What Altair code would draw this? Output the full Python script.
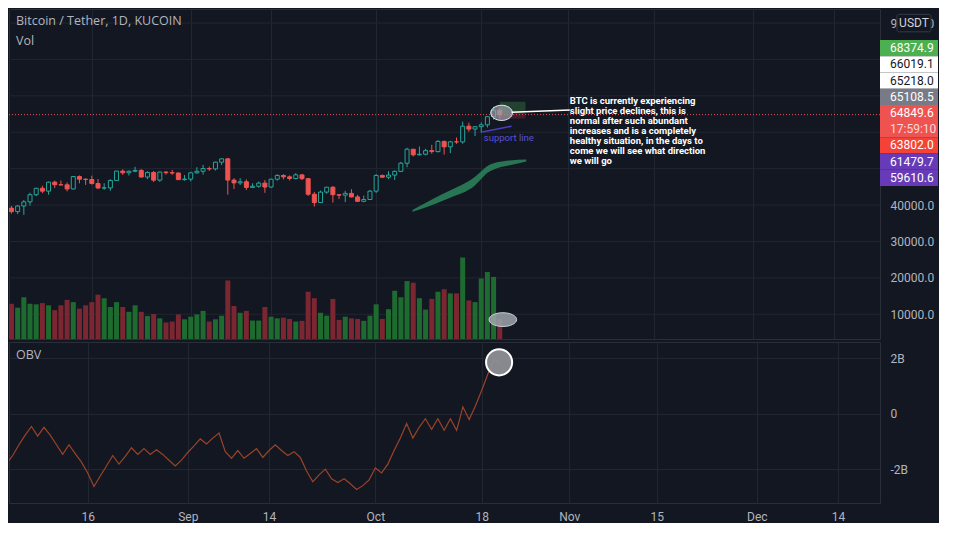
import altair as alt
import pandas as pd

# ---------------- layout / style ----------------
W = 871          # plot width
H1 = 330         # price pane height
H2 = 161         # OBV pane height
BG = "#131722"
GRID = "#222631"
TXT = "#b2b5be"
UP = "#26a69a"
DOWN = "#ef5350"
VUP = "#1e6b30"
VDOWN = "#7b2631"
FONT = "Roboto"

# ---------------- data ----------------
dates = pd.date_range("2021-08-03", periods=80, freq="D").strftime("%Y-%m-%d").tolist()

opens = [39150, 38200, 39740, 40880, 42840, 44610, 43820, 46290, 45590, 45560,
         44430, 47830, 47100, 47020, 45920, 44690, 44710, 46760, 49340, 48870,
         49290, 49520, 47700, 48950, 46850, 49070, 48900, 48810, 46990, 47130,
         48850, 49280, 50030, 49940, 51790, 52700, 46860, 46090, 46400, 44850,
         45170, 46030, 44950, 47100, 48130, 47750, 47300, 48300, 47260, 42970,
         40690, 43560, 44900, 42840, 42720, 43210, 42230, 41030, 41530, 43820,
         48140, 47660, 48230, 49250, 51490, 55340, 53800, 53970, 54960, 54690,
         57490, 56000, 57370, 57350, 61670, 60880, 61530, 62040, 64280, 66019.1]
highs = [39780, 39970, 41420, 43390, 44700, 45310, 46450, 46700, 46740, 46220,
         47890, 48140, 47370, 48050, 47160, 46000, 47070, 49380, 49800, 49500,
         50500, 49870, 49280, 49360, 49190, 49310, 49650, 48910, 48250, 49130,
         50400, 51050, 50560, 51900, 52780, 52950, 47360, 47400, 47050, 45990,
         46470, 46880, 47250, 48490, 48500, 48160, 48800, 48370, 47340, 43620,
         44000, 44980, 45200, 42970, 43920, 44350, 42800, 42620, 44130, 48500,
         48360, 49300, 49530, 51890, 55750, 55340, 56100, 55490, 56560, 57840,
         57680, 57650, 58550, 62930, 62640, 61720, 62700, 64490, 67000, 66640]
lows = [37640, 37510, 37330, 39850, 42450, 43260, 42840, 44690, 45350, 43770,
        44260, 45970, 45530, 45600, 44380, 44200, 43950, 46630, 48290, 48120,
        49030, 47600, 47140, 46320, 46370, 48370, 48300, 46860, 46700, 46520,
        48620, 48370, 49400, 49500, 50970, 42850, 44410, 45510, 44130, 44740,
        44750, 43370, 44690, 46700, 47040, 46750, 47050, 46830, 42500, 39580,
        40570, 43090, 40680, 41650, 40800, 42100, 40830, 40780, 41430, 43300,
        47430, 47130, 46900, 49070, 50380, 53360, 53630, 53670, 54090, 54420,
        53880, 54270, 56820, 56850, 60150, 58960, 59850, 61320, 63480, 63802]
closes = [38200, 39740, 40880, 42840, 44610, 43820, 46290, 45590, 45560, 44430,
          47830, 47100, 47020, 45920, 44690, 44710, 46760, 49340, 48870, 49290,
          49520, 47700, 48950, 46850, 49070, 48900, 48810, 46990, 47130, 48850,
          49280, 50030, 49940, 51790, 52700, 46860, 46090, 46400, 44850, 45170,
          46030, 44950, 47100, 48130, 47750, 47300, 48300, 47260, 42970, 40690,
          43560, 44900, 42840, 42720, 43210, 42230, 41030, 41530, 43820, 48140,
          47660, 48230, 49250, 51490, 55340, 53800, 53970, 54960, 54690, 57490,
          56000, 57370, 57350, 61670, 60880, 61530, 62040, 64280, 66000, 64849.6]
volumes = [3630, 3230, 4300, 3630, 3570, 3700, 3470, 2970, 3470, 4030,
           3800, 3130, 3470, 3800, 4570, 4200, 3300, 3800, 3300, 2800,
           3470, 2800, 2370, 2570, 2130, 1700, 1800, 2530, 2030, 2300,
           2530, 2900, 1800, 2030, 2400, 6030, 3400, 2700, 2900, 1900,
           1900, 3300, 2300, 2130, 2200, 2070, 1800, 1870, 4870, 4200,
           2700, 2400, 4130, 1970, 2300, 2130, 2070, 1870, 2400, 3570,
           2070, 3070, 4970, 4300, 5970, 5800, 4200, 3030, 4130, 4870,
           5130, 4700, 4700, 8400, 3970, 3800, 6230, 6900, 6400, 2000]
obv = [-1.82, -1.51, -1.12, -0.77, -0.46, -0.81, -0.49, -0.77, -1.12, -1.47,
       -1.12, -1.44, -1.75, -2.14, -2.63, -2.25, -1.89, -1.51, -1.82, -1.54,
       -1.23, -1.47, -1.26, -1.47, -1.30, -1.47, -1.68, -1.89, -1.68, -1.40,
       -1.16, -0.91, -1.09, -0.88, -0.70, -1.37, -1.61, -1.33, -1.61, -1.44,
       -1.26, -1.58, -1.33, -1.12, -1.33, -1.51, -1.37, -1.58, -2.07, -2.46,
       -2.21, -2.00, -2.35, -2.49, -2.35, -2.53, -2.74, -2.60, -2.39, -1.96,
       -2.14, -1.82, -1.33, -0.88, -0.35, -0.88, -0.49, -0.18, -0.56, -0.18,
       -0.60, -0.18, -0.60, 0.25, -0.21, 0.28, 0.84, 1.44, 1.96, 1.79]

grid_prices = [10000, 20000, 30000, 40000, 50000, 60000, 70000, 80000, 90000]
label_prices = [10000, 20000, 30000, 40000, 90000]
obv_ticks = [-2, 0, 2]
current_price = [64849.6]

ribbon_t = ["2021-10-06T21:00:00Z", "2021-10-09T05:00:00Z", "2021-10-11T14:00:00Z",
            "2021-10-13T23:00:00Z", "2021-10-15T12:00:00Z", "2021-10-16T19:00:00Z",
            "2021-10-17T21:00:00Z", "2021-10-18T23:00:00Z", "2021-10-20T13:00:00Z",
            "2021-10-22T14:00:00Z", "2021-10-25T07:00:00Z"]
ribbon_lo = [38130, 39470, 41070, 42670, 43730, 45070, 46930, 48800, 50130, 50930, 52000]
ribbon_hi = [38670, 40800, 42930, 44800, 46130, 47470, 49070, 50670, 51730, 52270, 52530]

support_t = ["2021-10-18T04:00:00Z", "2021-10-22T22:00:00Z"]
support_p = [60080, 61680]
support_label = ["support line"]
support_label_t = ["2021-10-18T10:00:00Z"]
support_label_p = [58480]

pos_t = ["2021-10-21T00:00:00Z", "2021-10-25T04:00:00Z"]
pos_target = [68374.9]
pos_entry = [65218.0]
pos_stop = [63802.0]

arrow_t = ["2021-10-22T22:00:00Z", "2021-11-01T08:00:00Z"]
arrow_p = [65470, 66130]
note_t = ["2021-11-01T08:00:00Z"]
note_p = [69870]
note_text = ["BTC is currently experiencing\nslight price declines, this is\nnormal after such abundant\n"
             "increases and is a completely\nhealthy situation, in the days to\n"
             "come we will see what direction\nwe will go"]

blob_price_t = ["2021-10-21T07:00:00Z"]
blob_price_p = [65333]
blob_vol_t = ["2021-10-21T12:00:00Z"]
blob_vol_p = [8530]
blob_obv_t = ["2021-10-20T19:00:00Z"]
blob_obv_v = [1.86]

box_labels = ["68374.9", "66019.1", "65218.0", "65108.5", "64849.6", "17:59:10",
              "63802.0", "61479.7", "59610.6"]
box_bg = ["#4caf50", "#ffffff", "#ffffff", "#787b86", "#ef5350", "#ef5350",
          "#f44336", "#673ab7", "#673ab7"]
box_fg = ["#ffffff", "#131722", "#131722", "#ffffff", "#ffffff", "#ffd8d8",
          "#ffffff", "#ffffff", "#ffffff"]

title_text = ["Bitcoin / Tether, 1D, KUCOIN"]
vol_text = ["Vol"]
obv_text = ["OBV"]
currency = ["USDT"]
currency_p = [90000]

# ---------------- frames ----------------
df = pd.DataFrame({"date": dates, "open": opens, "high": highs, "low": lows,
                   "close": closes, "volume": volumes, "obv": obv})
up = alt.datum.close >= alt.datum.open

xdomain = [alt.DateTime(year=2021, month=8, date=3, hours=9, minutes=49, utc=True),
           alt.DateTime(year=2021, month=12, date=20, hours=17, utc=True)]
xs = alt.Scale(type="utc", domain=xdomain)
xticks = [alt.DateTime(year=2021, month=m, date=d, utc=True)
          for m, d in [(8, 16), (9, 1), (9, 14), (10, 1), (10, 18), (11, 1), (11, 15), (12, 1), (12, 14)]]
label_expr = "utcdate(datum.value) == 1 ? utcFormat(datum.value, '%b') : utcFormat(datum.value, '%-d')"

x_axis_top = alt.Axis(values=xticks, labels=False, ticks=False, domain=False, grid=True,
                      gridColor=GRID, title=None)
x_axis_bottom = alt.Axis(values=xticks, labelExpr=label_expr, ticks=False, domain=False,
                         grid=True, gridColor=GRID, title=None, labelColor=TXT,
                         labelFont=FONT, labelFontSize=12, labelPadding=8, labelFlush=False)

py = alt.Scale(domain=[3200, 93867], nice=False, zero=False)
vs = alt.Scale(domain=[0, 34000], nice=False)
os_ = alt.Scale(domain=[-3.228, 2.596], nice=False, zero=False)

price_axis = alt.Axis(orient="right", values=label_prices, format=".1f", grid=False,
                      domain=False, ticks=False, tickSize=0, labelPadding=10,
                      labelColor=TXT, labelFont=FONT, labelFontSize=12, title=None, zindex=0)

X = alt.X("date:T", scale=xs, axis=x_axis_top)

hgrid = alt.Chart(pd.DataFrame({"p": grid_prices})).mark_rule(color=GRID, strokeWidth=1).encode(
    y=alt.Y("p:Q", scale=py, axis=None))

vol = alt.Chart(df).mark_bar(size=5, clip=True).encode(
    x=X, y=alt.Y("volume:Q", scale=vs, axis=None),
    color=alt.condition(up, alt.value(VUP), alt.value(VDOWN)))

wicks = alt.Chart(df).mark_rule(strokeWidth=1, clip=True).encode(
    x=X, y=alt.Y("low:Q", scale=py, axis=price_axis), y2="high:Q",
    color=alt.condition(up, alt.value(UP), alt.value(DOWN)))

bodies = alt.Chart(df).mark_bar(size=4, strokeWidth=1, clip=True).encode(
    x=X, y=alt.Y("open:Q", scale=py, axis=None), y2="close:Q",
    fill=alt.condition(up, alt.value(BG), alt.value(DOWN)),
    stroke=alt.condition(up, alt.value(UP), alt.value(DOWN)))

curline = alt.Chart(pd.DataFrame({"p": current_price})).mark_rule(
    strokeDash=[1, 2], color=DOWN, strokeWidth=1).encode(
    y=alt.Y("p:Q", scale=py, axis=None))

rib = alt.Chart(pd.DataFrame({"t": ribbon_t, "lo": ribbon_lo, "hi": ribbon_hi})).mark_area(
    color="#2a8058", opacity=0.9, interpolate="monotone").encode(
    x=alt.X("t:T", scale=xs), y=alt.Y("lo:Q", scale=py, axis=None), y2="hi:Q")

sup = alt.Chart(pd.DataFrame({"t": support_t, "p": support_p})).mark_line(
    color="#4b3fc4", strokeWidth=1.5).encode(
    x=alt.X("t:T", scale=xs), y=alt.Y("p:Q", scale=py, axis=None))

suptxt = alt.Chart(pd.DataFrame({"t": support_label_t, "p": support_label_p, "s": support_label})).mark_text(
    align="left", baseline="middle", color="#5a4fd6", font=FONT, fontSize=9.5).encode(
    x=alt.X("t:T", scale=xs), y=alt.Y("p:Q", scale=py, axis=None), text="s:N")

posdf = pd.DataFrame({"t0": [pos_t[0]], "t1": [pos_t[1]], "tp": pos_target,
                      "en": pos_entry, "sl": pos_stop})
pos_g = alt.Chart(posdf).mark_rect(color="#4caf50", opacity=0.28).encode(
    x=alt.X("t0:T", scale=xs), x2="t1:T", y=alt.Y("tp:Q", scale=py, axis=None), y2="en:Q")
pos_r = alt.Chart(posdf).mark_rect(color="#f23645", opacity=0.22).encode(
    x=alt.X("t0:T", scale=xs), x2="t1:T", y=alt.Y("en:Q", scale=py, axis=None), y2="sl:Q")

ELLIPSE = "M-1,0A1,0.7,0,1,0,1,0A1,0.7,0,1,0,-1,0Z"
FLAT = "M-1,0A1,0.5,0,1,0,1,0A1,0.5,0,1,0,-1,0Z"

blob1 = alt.Chart(pd.DataFrame({"t": blob_price_t, "p": blob_price_p})).mark_point(
    shape=ELLIPSE, size=470, filled=True, fill="#9ba1ab", fillOpacity=0.7,
    stroke="#ffffff", strokeWidth=1, strokeOpacity=0.9).encode(
    x=alt.X("t:T", scale=xs), y=alt.Y("p:Q", scale=py, axis=None))

blob2 = alt.Chart(pd.DataFrame({"t": blob_vol_t, "p": blob_vol_p})).mark_point(
    shape=FLAT, size=760, filled=True, fill="#9ea3aa", fillOpacity=0.85,
    stroke="#cfd2d6", strokeWidth=1).encode(
    x=alt.X("t:T", scale=xs), y=alt.Y("p:Q", scale=py, axis=None))

arrow = alt.Chart(pd.DataFrame({"t": arrow_t, "p": arrow_p})).mark_line(
    color="#ffffff", strokeWidth=1.5).encode(
    x=alt.X("t:T", scale=xs), y=alt.Y("p:Q", scale=py, axis=None))

note = alt.Chart(pd.DataFrame({"t": note_t, "p": note_p, "s": note_text})).mark_text(
    align="left", baseline="top", lineBreak="\n", lineHeight=10, color="#ffffff",
    font=FONT, fontSize=9.5, fontWeight="bold").encode(
    x=alt.X("t:T", scale=xs), y=alt.Y("p:Q", scale=py, axis=None), text="s:N")

lab = pd.DataFrame({"row": list(range(len(box_labels))), "txt": box_labels,
                    "bg": box_bg, "fg": box_fg})
band = alt.Scale(range=[31, 177], paddingInner=0, paddingOuter=0)
boxes = alt.Chart(lab).mark_rect().encode(
    y=alt.Y("row:O", scale=band, axis=None), x=alt.value(W), x2=alt.value(W + 58),
    fill=alt.Fill("bg:N", scale=None))
boxtxt = alt.Chart(lab).mark_text(align="left", baseline="middle", font=FONT, fontSize=12).encode(
    y=alt.Y("row:O", scale=band, axis=None), x=alt.value(W + 10),
    text="txt:N", color=alt.Color("fg:N", scale=None))

curdf = pd.DataFrame({"s": currency, "p": currency_p, "hi": [92400], "lo": [87600]})
usdt_box = alt.Chart(curdf).mark_rect(fill=BG, stroke="#363a45", strokeWidth=1, cornerRadius=2).encode(
    x=alt.value(W + 17), x2=alt.value(W + 51),
    y=alt.Y("hi:Q", scale=py, axis=None), y2="lo:Q")
usdt_txt = alt.Chart(curdf).mark_text(align="center", baseline="middle", color="#d1d4dc",
                                      font=FONT, fontSize=12).encode(
    x=alt.value(W + 34), y=alt.Y("p:Q", scale=py, axis=None), text="s:N")

title = alt.Chart(pd.DataFrame({"s": title_text})).mark_text(
    align="left", baseline="middle", color=TXT, font="Open Sans", fontSize=12.5).encode(
    x=alt.value(7), y=alt.value(12), text="s:N")
voltxt = alt.Chart(pd.DataFrame({"s": vol_text})).mark_text(
    align="left", baseline="middle", color=TXT, font="Open Sans", fontSize=12.5).encode(
    x=alt.value(7), y=alt.value(32), text="s:N")

price_pane = alt.layer(
    hgrid, vol, wicks, bodies, curline, rib, sup, suptxt, pos_g, pos_r, blob1, blob2, arrow, note,
    boxes, boxtxt, usdt_box, usdt_txt, title, voltxt
).resolve_scale(y="independent").properties(width=W, height=H1)

# ---------------- OBV pane ----------------
obv_axis = alt.Axis(orient="right", values=obv_ticks,
                    labelExpr="datum.value == 0 ? '0' : datum.value + 'B'",
                    grid=True, gridColor=GRID, domain=False, ticks=False, tickSize=0,
                    labelPadding=10, labelColor=TXT, labelFont=FONT, labelFontSize=12,
                    title=None)
obv_line = alt.Chart(df).mark_line(color="#9a4328", strokeWidth=1.2, clip=True).encode(
    x=alt.X("date:T", scale=xs, axis=x_axis_bottom),
    y=alt.Y("obv:Q", scale=os_, axis=obv_axis))
blob3 = alt.Chart(pd.DataFrame({"t": blob_obv_t, "v": blob_obv_v})).mark_point(
    shape="circle", size=680, filled=True, fill="#8e8f96", fillOpacity=0.95,
    stroke="#ffffff", strokeWidth=2).encode(
    x=alt.X("t:T", scale=xs), y=alt.Y("v:Q", scale=os_))
obvtxt = alt.Chart(pd.DataFrame({"s": obv_text})).mark_text(
    align="left", baseline="middle", color=TXT, font="Open Sans", fontSize=12.5).encode(
    x=alt.value(7), y=alt.value(13), text="s:N")

obv_pane = alt.layer(obv_line, blob3, obvtxt).properties(width=W, height=H2)

chart = alt.vconcat(price_pane, obv_pane, spacing=1).properties(
    padding=0, background=BG
).configure_view(stroke="#2a2e39", strokeWidth=1)

chart.save("out.html", embed_options={"renderer": "svg", "actions": False})
